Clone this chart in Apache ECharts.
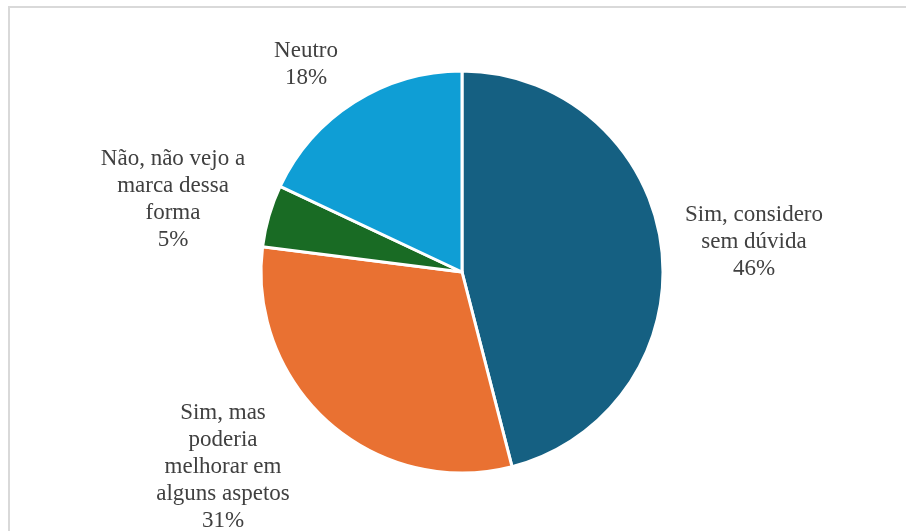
<!DOCTYPE html>
<html>
<head>
<meta charset="utf-8">
<script src="https://cdn.jsdelivr.net/npm/echarts@6/dist/echarts.min.js"></script>
<style>
  html, body { margin: 0; padding: 0; background: #ffffff; }
  #chart { width: 906px; height: 531px; }
</style>
</head>
<body>
<div id="chart"></div>
<script>
// Survey answers, clockwise from 12 o'clock
const categories = [
  'Sim, considero\nsem dúvida',
  'Sim, mas\npoderia\nmelhorar em\nalguns aspetos',
  'Não, não vejo a\nmarca dessa\nforma',
  'Neutro'
];
const shares = [46, 31, 5, 18];
const sliceColors = ['#156082', '#E97132', '#196B24', '#0F9ED5'];

// Where each label block is centred
const labelSpots = [
  [754, 242],
  [223, 467],
  [173, 199],
  [306, 64]
];

const chart = echarts.init(document.getElementById('chart'), null, { renderer: 'canvas' });

chart.setOption({
  backgroundColor: '#ffffff',
  animation: false,
  graphic: [{
    type: 'rect',
    shape: { x: 9, y: 7, width: 1000, height: 700 },
    style: { fill: 'none', stroke: '#d9d9d9', lineWidth: 2 },
    silent: true
  }],
  series: [{
    type: 'pie',
    center: [462, 272],
    radius: 201,
    startAngle: 90,
    clockwise: true,
    avoidLabelOverlap: false,
    itemStyle: { borderColor: '#ffffff', borderWidth: 3 },
    label: {
      show: true,
      position: 'outside',
      formatter: p => p.name + '\n' + p.value + '%',
      fontFamily: '"Liberation Serif", "Times New Roman", serif',
      fontSize: 23,
      lineHeight: 27,
      color: '#404040',
      align: 'center'
    },
    labelLine: { show: false },
    labelLayout: p => ({
      x: labelSpots[p.dataIndex][0],
      y: labelSpots[p.dataIndex][1],
      align: 'center',
      verticalAlign: 'middle'
    }),
    data: categories.map((name, i) => ({
      name: name,
      value: shares[i],
      itemStyle: { color: sliceColors[i] }
    }))
  }]
});
</script>
</body>
</html>
